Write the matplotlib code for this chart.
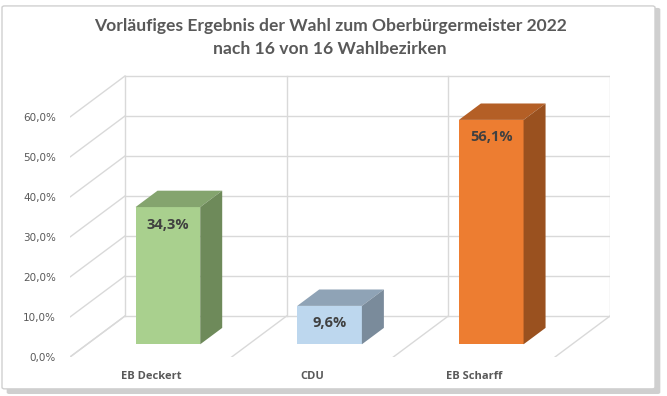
import matplotlib.pyplot as plt
from matplotlib.patches import Polygon, FancyBboxPatch

# data
categories = ['EB Deckert', 'CDU', 'EB Scharff']
values = [34.3, 9.6, 56.1]
front_colors = ['#A9D08E', '#BDD7EE', '#ED7D31']
top_colors = ['#84A46E', '#8FA3B6', '#B45F26']
side_colors = ['#6E8A5A', '#7A8B9B', '#9A511F']
yticks = [0, 10, 20, 30, 40, 50, 60]
title = 'Vorläufiges Ergebnis der Wahl zum Oberbürgermeister 2022\nnach 16 von 16 Wahlbezirken'

# oblique 3d settings (in data units)
dx, dy = 0.34, 10.25      # full depth of the floor
d0, bd = 0.31, 0.40       # bar front position and bar depth (fractions of dx/dy)
w = 0.40                  # bar width
grid_c = '#D9D9D9'
text_c = '#595959'

fig = plt.figure(figsize=(6.67, 3.96), dpi=100)

# chart frame with shadow
shadow = FancyBboxPatch((0.010, 0.005), 0.980, 0.975, boxstyle='round,pad=0,rounding_size=0.004',
                        transform=fig.transFigure, fc='#B0B0B0', ec='none', alpha=0.6, zorder=-2)
frame = FancyBboxPatch((0.003, 0.018), 0.979, 0.967, boxstyle='round,pad=0,rounding_size=0.004',
                       transform=fig.transFigure, fc='white', ec='#D0D0D0', lw=1, zorder=-1)
fig.patches.extend([shadow, frame])

ax = fig.add_axes([70 / 667, 39 / 396, 540 / 667, 284 / 396])
ax.set_xlim(0, 3 + dx)
ax.set_ylim(0, 71)
ax.patch.set_visible(False)
for s in ax.spines.values():
    s.set_visible(False)

# walls and floor
for v in yticks:
    ax.plot([dx, 3 + dx], [v + dy, v + dy], color=grid_c, lw=1, zorder=1)
    ax.plot([0, dx], [v, v + dy], color=grid_c, lw=1, zorder=1)
for k in range(4):
    ax.plot([k + dx, k + dx], [dy, 60 + dy], color=grid_c, lw=1, zorder=1)
    ax.plot([k, k + dx], [0, dy], color=grid_c, lw=1, zorder=1)

# bars
base = d0 * dy
xs = [i + 0.5 + d0 * dx for i in range(len(categories))]
ax.bar(xs, values, width=w, bottom=base, color=front_colors, zorder=3)
for i, v in enumerate(values):
    xl, xr = xs[i] - w / 2, xs[i] + w / 2
    top = v + base
    ox, oy = bd * dx, bd * dy
    ax.add_patch(Polygon([(xl, top), (xr, top), (xr + ox, top + oy), (xl + ox, top + oy)],
                         closed=True, fc=top_colors[i], ec='none', zorder=3))
    ax.add_patch(Polygon([(xr, base), (xr + ox, base + oy), (xr + ox, top + oy), (xr, top)],
                         closed=True, fc=side_colors[i], ec='none', zorder=3))
    ax.text(xs[i], top - 4.4, f'{v:.1f}%'.replace('.', ','), ha='center', va='center',
            fontsize=10.5, fontweight='bold', color='#404040', family='Open Sans', zorder=4)

ax.set_yticks(yticks)
ax.set_yticklabels([f'{t:.1f}%'.replace('.', ',') for t in yticks], fontsize=7.5, color=text_c)
ax.set_xticks([i + 0.5 for i in range(len(categories))])
ax.set_xticklabels(categories, fontsize=8, fontweight='bold', color=text_c, family='Open Sans')
ax.tick_params(length=0)
ax.tick_params(axis='y', pad=10)
ax.tick_params(axis='x', pad=10)

fig.text(0.495, 0.955, title, ha='center', va='top', fontsize=12.6, fontweight='bold',
         color=text_c, family='Lato', linespacing=1.55)

fig.savefig('out.png', dpi=100)
